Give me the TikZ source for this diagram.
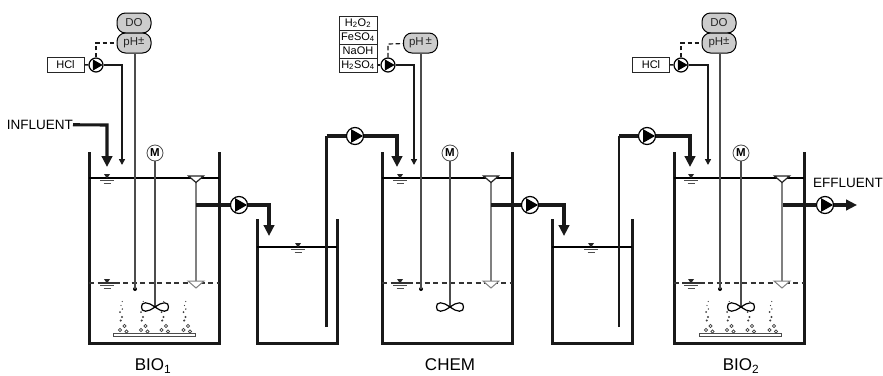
\documentclass[tikz,border=0pt]{standalone}
\usepackage{fontspec}
\setmainfont{Liberation Sans}
\usetikzlibrary{arrows.meta,calc}
\definecolor{sensorfill}{gray}{0.8}
\definecolor{linegray}{gray}{0.3}
\definecolor{sepgray}{gray}{0.5}
\tikzset{
  wall/.style={line width=3pt,draw=black!90},
  flow/.style={line width=3.1pt,draw=black!90},
  flowarrow/.style={flow,-{Triangle[length=11pt,width=10.5pt]}},
  dose/.style={line width=1.6pt,draw=black!90},
  dosearrow/.style={dose,-{Triangle[length=6pt,width=6pt]}},
  level/.style={line width=1.2pt,draw=black},
  sensorline/.style={line width=1.2pt,draw=linegray},
  signal/.style={line width=1.2pt,draw=black!90,dash pattern=on 4.5pt off 2.5pt},
  sensor/.style={draw=black,line width=1pt,fill=sensorfill,rounded corners=8.5pt,minimum width=34pt,minimum height=20pt,inner sep=0pt,font=\fontsize{11.5}{13}\selectfont,text=black!85},
  chembox/.style={draw=black!85,line width=1pt,fill=white,minimum width=38pt,minimum height=14pt,inner sep=0pt,font=\fontsize{11}{13}\selectfont},
  pumpbig/.style={circle,draw=black,line width=1.2pt,fill=white,minimum size=17pt,inner sep=0pt},
  pumpsmall/.style={circle,draw=black,line width=1.2pt,fill=white,minimum size=14pt,inner sep=0pt},
  motor/.style={circle,draw=black!70,line width=.8pt,fill=white,minimum size=16pt,inner sep=0pt,font=\bfseries\fontsize{11.5}{13}\selectfont},
  lab/.style={inner sep=0pt,font=\fontsize{13.5}{15}\selectfont},
  caption/.style={inner sep=0pt,font=\fontsize{17}{19}\selectfont},
}
\newcommand{\pumpin}[3]{\fill[black] (#2-.45*#3,#1-.8*#3) -- (#2+.95*#3,#1) -- (#2-.45*#3,#1+.8*#3) -- cycle;}
% water-level sign
\newcommand{\waterup}[2]{\begin{scope}[shift={(#1,#2)}]
  \fill[black!85] (-3,-4) -- (3,-4) -- (0,0.5) -- cycle;
  \draw[line width=1pt,black!70] (-7,2.7) -- (7,2.7) (-3.5,5.2) -- (3.5,5.2);
\end{scope}}
\newcommand{\waterlow}[2]{\begin{scope}[shift={(#1,#2)}]
  \fill[black!85] (-3,-4) -- (3,-4) -- (0,0.5) -- cycle;
  \draw[line width=1.3pt,black!80] (-9,0) -- (9,0);
  \draw[line width=1pt,black!70] (-7,2.7) -- (7,2.7) (-3.5,5.2) -- (3.5,5.2);
\end{scope}}
\newcommand{\impeller}[2]{\begin{scope}[shift={(#1,#2)}]
  \draw[line width=1.2pt,black,fill=white] (0,0) .. controls (4,-2.5) and (6,-4.2) .. (9.5,-4.2) .. controls (12.5,-4.2) and (13.5,-2.5) .. (13.5,0)
    .. controls (13.5,2.5) and (12.5,4.2) .. (9.5,4.2) .. controls (6,4.2) and (4,2.5) .. (0,0)
    .. controls (-4,-2.5) and (-6,-4.2) .. (-9.5,-4.2) .. controls (-12.5,-4.2) and (-13.5,-2.5) .. (-13.5,0)
    .. controls (-13.5,2.5) and (-12.5,4.2) .. (-9.5,4.2) .. controls (-6,4.2) and (-4,2.5) .. (0,0);
\end{scope}}
\newcommand{\bubbles}[1]{\begin{scope}[shift={(#1,0)}]
  \foreach \a/\b in {0/330,4.5/326,6.5/331.5}{\draw[black!75,line width=.7pt,fill=white] (\a,\b) circle (1.7pt);}
  \foreach \a/\b/\c in {.7/320.5/1.2,2/317/1.1,0/312/1,2.3/309/.8,1/305.5/.7,2.3/301.5/.6}{\fill[black!75] (\a,\b) circle (\c pt);}
\end{scope}}
% reactor: prefix, left, right, symbol x, M x, funnel x, pH-line x
\newcommand{\reactor}[7]{%
  \draw[wall] (#2,152) -- (#2,343) -- (#3,343) -- (#3,152);
  \draw[level] (#2,178) -- (#3,178);
  \waterup{#4}{178}
  \draw[line width=1.2pt,draw=black!80,dash pattern=on 5pt off 3.5pt] (#2,283) -- (#3,283);
  \waterlow{#4}{283}
  \draw[line width=2.6pt,sepgray] (#6,181) -- (#6,281);
  \draw[line width=1.2pt,black!85,fill=white] (#6-7.5,176) -- (#6+7.5,176) -- (#6,182.5) -- cycle;
  \draw[line width=1pt,sepgray,fill=white] (#6-8,281) -- (#6+8,281) -- (#6,288) -- cycle;
  \node[motor] (#1m) at (#5,153) {M};
  \coordinate (#1i) at (#5,307);
  \draw[sensorline] (#1m) -- (#1i);
  \impeller{#5}{307}
  \coordinate (#1d) at (#7,289);
  \fill[black] (#1d) circle (2pt);
}
\begin{document}
\begin{tikzpicture}[x=1pt,y=-1pt]
\useasboundingbox (0,0) rectangle (883,375);

% ---------- BIO1 ----------
\draw[line width=1pt,black!70,fill=white] (113,333.5) rectangle (195,336.5);
\bubbles{120}\bubbles{141}\bubbles{161.5}\bubbles{183.5}
\reactor{a}{89}{219}{107}{155}{196}{135}
\node[sensor] (ado) at (134,23) {DO};
\node[sensor] (aph) at (134,43) {pH\raisebox{1pt}{±}};
\draw[sensorline] (aph.south -| ad) -- (ad);
\node[chembox,minimum width=37pt,minimum height=15pt] (ahcl) at (65.5,64.5) {HCl};
\node[pumpsmall] (ap) at (96,65) {};\pumpin{65}{96}{7}
\draw[dose] (ahcl) -- (ap);
\coordinate (adc) at (122,65);
\coordinate (ade) at (122,165);
\draw[dosearrow] (ap) -- (adc) -- (ade);
\coordinate (asc) at (96,43);
\draw[signal] (ap) -- (asc) -- (aph);
\node[lab,anchor=east] (inf) at (73,124.5) {INFLUENT};
\coordinate (ainc) at (107,125);
\coordinate (aine) at (107,167);
\draw[flowarrow] (inf) -- (ainc) -- (aine);
\node[caption] (bio1) at (153,366) {BIO\textsubscript{1}};

% ---------- settler 1 ----------
\draw[wall] (257,219) -- (257,343) -- (337,343) -- (337,219);
\draw[level] (257,247) -- (337,247);
\waterup{298}{247}
\coordinate (s1b) at (326.5,327);
\coordinate (s1t) at (326.5,136);
\draw[line width=2.6pt,black!90] (s1b) -- (s1t);
\node[pumpbig] (pa) at (239,205) {};\pumpin{205}{239}{8.5}
\coordinate (aout) at (196,205);
\coordinate (s1c) at (269,205);
\coordinate (s1e) at (269,236);
\draw[flow] (aout) -- (pa);
\draw[flowarrow] (pa) -- (s1c) -- (s1e);

% ---------- CHEM ----------
\reactor{c}{382}{512}{400}{450}{491}{421}
\node[pumpbig] (pb) at (355,136) {};\pumpin{136}{355}{8.5}
\coordinate (cc) at (397,136);
\coordinate (ce) at (397,167);
\draw[flow] (s1t) -- (pb);
\draw[flowarrow] (pb) -- (cc) -- (ce);
\node[chembox] (b1) at (358,23) {H\textsubscript{2}O\textsubscript{2}};
\node[chembox] (b2) at (358,37) {FeSO\textsubscript{4}};
\node[chembox] (b3) at (358,51) {NaOH};
\node[chembox] (b4) at (358,65) {H\textsubscript{2}SO\textsubscript{4}};
\node[sensor] (cph) at (420.5,43) {pH\,\raisebox{1pt}{±}};
\draw[sensorline] (cph.south -| cd) -- (cd);
\node[pumpsmall] (cp) at (388,65) {};\pumpin{65}{388}{7}
\draw[dose] (b4) -- (cp);
\coordinate (cdc) at (414,65);
\coordinate (cde) at (414,165);
\draw[dosearrow] (cp) -- (cdc) -- (cde);
\coordinate (csc) at (388,44);
\draw[signal] (cp) -- (csc) -- (cph);
\node[caption] (chem) at (450,365) {CHEM};

% ---------- settler 2 ----------
\draw[wall] (552,219) -- (552,343) -- (632,343) -- (632,219);
\draw[level] (552,247) -- (632,247);
\waterup{591}{247}
\coordinate (s2b) at (619,327);
\coordinate (s2t) at (619,136);
\draw[line width=2.6pt,black!90] (s2b) -- (s2t);
\node[pumpbig] (pc) at (530,205) {};\pumpin{205}{530}{8.5}
\coordinate (cout) at (491,205);
\coordinate (s2c) at (564,205);
\coordinate (s2e) at (564,236);
\draw[flow] (cout) -- (pc);
\draw[flowarrow] (pc) -- (s2c) -- (s2e);

% ---------- BIO2 ----------
\draw[line width=1pt,black!70,fill=white] (699,333.5) rectangle (781,336.5);
\bubbles{706}\bubbles{727}\bubbles{747.5}\bubbles{769.5}
\reactor{e}{674}{804}{691}{741}{782}{720}
\node[sensor] (edo) at (719,23) {DO};
\node[sensor] (eph) at (719,43) {pH\raisebox{1pt}{±}};
\draw[sensorline] (eph.south -| ed) -- (ed);
\node[chembox,minimum width=37pt,minimum height=15pt] (ehcl) at (651,64.5) {HCl};
\node[pumpsmall] (ep) at (681,65) {};\pumpin{65}{681}{7}
\draw[dose] (ehcl) -- (ep);
\coordinate (edc) at (708,65);
\coordinate (ede) at (708,165);
\draw[dosearrow] (ep) -- (edc) -- (ede);
\coordinate (esc) at (681,43);
\draw[signal] (ep) -- (esc) -- (eph);
\node[pumpbig] (pd) at (647,136) {};\pumpin{136}{647}{8.5}
\coordinate (ec) at (690,136);
\coordinate (ee) at (690,167);
\draw[flow] (s2t) -- (pd);
\draw[flowarrow] (pd) -- (ec) -- (ee);
\node[pumpbig] (pe) at (825,205) {};\pumpin{205}{825}{8.5}
\coordinate (eout) at (783,205);
\coordinate (eff) at (857,205);
\draw[flow] (eout) -- (pe);
\draw[flowarrow] (pe) -- (eff);
\node[lab,anchor=west] (efl) at (813,183) {EFFLUENT};
\node[caption] (bio2) at (741,366) {BIO\textsubscript{2}};
\end{tikzpicture}
\end{document}
